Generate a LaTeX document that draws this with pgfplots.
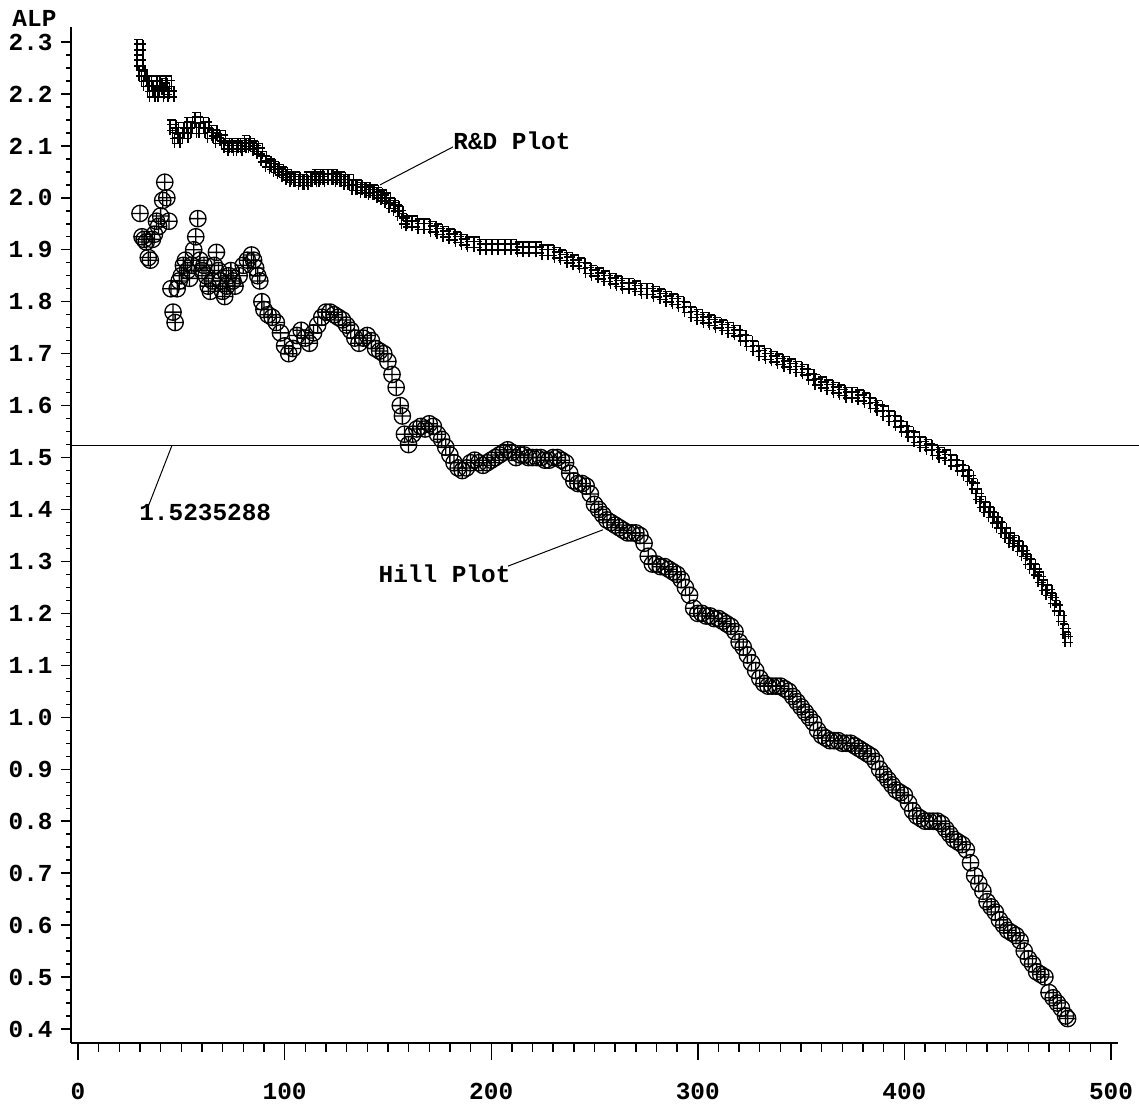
\documentclass[border=0pt]{standalone}
\usepackage{fontspec}
\setmainfont{Liberation Mono}
\usepackage{pgfplots}
\pgfplotsset{compat=1.18}

% hash-like plotting symbol for the R&D series
\pgfdeclareplotmark{sashash}{%
  \pgfpathmoveto{\pgfqpoint{-1.4pt}{-3.8pt}}\pgfpathlineto{\pgfqpoint{-1.4pt}{3.8pt}}%
  \pgfpathmoveto{\pgfqpoint{1.4pt}{-3.8pt}}\pgfpathlineto{\pgfqpoint{1.4pt}{3.8pt}}%
  \pgfpathmoveto{\pgfqpoint{-2.8pt}{1.5pt}}\pgfpathlineto{\pgfqpoint{2.8pt}{1.5pt}}%
  \pgfpathmoveto{\pgfqpoint{-2.8pt}{-1.5pt}}\pgfpathlineto{\pgfqpoint{2.8pt}{-1.5pt}}%
  \pgfpathmoveto{\pgfqpoint{-2.8pt}{3.8pt}}\pgfpathlineto{\pgfqpoint{1.4pt}{3.8pt}}%
  \pgfusepathqstroke}

\pgfplotstableread{
x y
30 2.29
30 2.26
31 2.24
32 2.23
33 2.22
35 2.21
36 2.20
37 2.22
38 2.21
40 2.20
41 2.22
42 2.215
43 2.205
44 2.22
45 2.20
46 2.135
47 2.12
48 2.11
50 2.13
52 2.12
54 2.14
56 2.13
58 2.15
60 2.13
62 2.14
64 2.12
66 2.125
68 2.11
70 2.115
72 2.10
74 2.095
76 2.10
78 2.095
80 2.10
82 2.105
84 2.10
86 2.095
88 2.09
90 2.075
92 2.065
94 2.06
96 2.055
98 2.05
100 2.045
102 2.04
104 2.035
106 2.035
108 2.03
110 2.03
112 2.035
114 2.035
116 2.04
118 2.035
120 2.04
122 2.04
124 2.04
126 2.035
128 2.035
130 2.03
132 2.03
134 2.02
136 2.02
138 2.015
140 2.015
142 2.01
144 2.01
146 2.005
148 2.0
150 1.995
152 1.985
154 1.98
156 1.97
158 1.955
160 1.95
163 1.95
166 1.945
169 1.945
172 1.94
175 1.935
178 1.93
181 1.925
184 1.92
187 1.915
190 1.91
193 1.91
196 1.905
199 1.905
202 1.905
205 1.905
208 1.905
211 1.905
214 1.90
217 1.90
220 1.90
223 1.90
226 1.895
229 1.895
232 1.89
235 1.885
238 1.88
241 1.875
244 1.87
247 1.86
250 1.855
253 1.85
256 1.845
259 1.84
262 1.835
265 1.83
268 1.83
271 1.825
274 1.82
277 1.82
280 1.815
283 1.81
286 1.805
289 1.80
292 1.795
295 1.785
298 1.775
301 1.77
304 1.765
307 1.76
310 1.755
313 1.75
316 1.745
319 1.74
322 1.73
325 1.72
328 1.71
331 1.70
334 1.695
337 1.69
340 1.685
343 1.68
346 1.675
349 1.67
352 1.665
355 1.655
358 1.645
361 1.64
364 1.635
367 1.63
370 1.625
373 1.62
376 1.62
379 1.615
382 1.61
385 1.60
388 1.595
391 1.585
394 1.575
397 1.565
400 1.555
403 1.545
406 1.535
409 1.525
412 1.52
415 1.51
418 1.505
421 1.50
424 1.49
427 1.48
430 1.47
432 1.46
434 1.445
436 1.425
438 1.41
440 1.40
442 1.39
444 1.38
446 1.37
448 1.36
450 1.35
452 1.34
454 1.335
456 1.325
458 1.315
460 1.30
462 1.29
464 1.28
466 1.265
468 1.25
470 1.24
472 1.225
474 1.21
476 1.19
478 1.165
479 1.15
}\rdtable

\pgfplotstableread{
x y
30 1.97
31 1.925
32 1.92
33 1.915
34 1.885
35 1.88
36 1.92
37 1.93
38 1.955
39 1.945
40 1.965
41 1.995
42 2.03
43 2.0
44 1.955
45 1.825
46 1.78
47 1.76
48 1.825
49 1.84
50 1.85
51 1.87
52 1.88
53 1.86
54 1.845
55 1.87
56 1.90
57 1.925
58 1.96
59 1.88
60 1.86
61 1.87
62 1.85
63 1.83
64 1.82
65 1.84
66 1.87
67 1.895
68 1.86
69 1.84
70 1.82
71 1.81
72 1.83
73 1.85
74 1.86
75 1.84
76 1.83
78 1.85
80 1.87
82 1.88
84 1.89
85 1.88
86 1.865
87 1.85
88 1.84
89 1.80
90 1.785
92 1.775
94 1.77
96 1.76
98 1.74
100 1.715
102 1.70
104 1.71
106 1.735
108 1.745
110 1.73
112 1.72
114 1.74
116 1.755
118 1.77
120 1.78
122 1.78
124 1.775
126 1.77
128 1.765
130 1.755
132 1.745
134 1.73
136 1.72
138 1.73
140 1.735
142 1.725
144 1.71
146 1.705
148 1.70
150 1.685
152 1.66
154 1.635
156 1.60
157 1.58
158 1.545
160 1.525
162 1.545
164 1.555
166 1.56
168 1.555
170 1.565
172 1.56
174 1.545
176 1.535
178 1.52
180 1.505
182 1.49
184 1.48
186 1.475
188 1.48
190 1.49
192 1.495
194 1.49
196 1.485
198 1.49
200 1.495
202 1.50
204 1.505
206 1.51
208 1.515
210 1.51
212 1.50
214 1.505
216 1.505
218 1.50
220 1.50
222 1.50
224 1.50
226 1.495
228 1.495
230 1.50
232 1.50
234 1.495
236 1.49
238 1.47
240 1.455
242 1.45
244 1.45
246 1.445
248 1.43
250 1.41
252 1.40
254 1.39
256 1.38
258 1.375
260 1.37
262 1.365
264 1.36
266 1.355
268 1.355
270 1.355
272 1.35
274 1.335
276 1.31
278 1.295
280 1.295
282 1.29
284 1.29
286 1.285
288 1.28
290 1.275
292 1.265
294 1.25
296 1.235
298 1.21
300 1.20
302 1.20
304 1.195
306 1.195
308 1.19
310 1.19
312 1.185
314 1.18
316 1.175
318 1.165
320 1.145
322 1.135
324 1.12
326 1.105
328 1.09
330 1.075
332 1.065
334 1.06
336 1.06
338 1.06
340 1.06
342 1.055
344 1.05
346 1.04
348 1.03
350 1.02
352 1.01
354 1.0
356 0.99
358 0.975
360 0.965
362 0.96
364 0.955
366 0.955
368 0.955
370 0.95
372 0.95
374 0.95
376 0.945
378 0.94
380 0.935
382 0.93
384 0.925
386 0.915
388 0.90
390 0.89
392 0.88
394 0.87
396 0.86
398 0.855
400 0.85
402 0.835
404 0.82
406 0.81
408 0.805
410 0.80
412 0.80
414 0.80
416 0.80
418 0.795
420 0.785
422 0.775
424 0.765
426 0.76
428 0.755
430 0.745
432 0.72
434 0.695
436 0.68
438 0.665
440 0.645
442 0.635
444 0.625
446 0.61
448 0.60
450 0.59
452 0.585
454 0.58
456 0.57
458 0.55
460 0.535
462 0.525
464 0.51
466 0.505
468 0.50
470 0.47
472 0.46
474 0.45
476 0.44
478 0.425
479 0.42
}\hilltable

\pgfplotsset{
  sasframe/.style={
    scale only axis, width=523.5pt, height=508pt,
    xmin=-3.39, xmax=503.39, ymin=0.373, ymax=2.3289,
    axis line style={-, line width=0.75pt},
    tick style={line width=0.7pt, black},
    tick align=outside,
    ticklabel style={font=\fontsize{12.2}{14}\selectfont\bfseries},
    /pgf/number format/assume math mode=true,
    clip=false,
  },
}

\begin{document}
\begin{tikzpicture}
% y axis only
\begin{axis}[sasframe, name=yax,
  axis x line=none, axis y line*=left,
  ytick={0.4,0.5,...,2.31}, minor y tick num=3,
  major tick length=5pt, minor tick length=2.5pt,
  yticklabel={\pgfmathprintnumber[fixed,fixed zerofill,precision=1]{\tick}},
  yticklabel style={anchor=east, inner sep=0pt, xshift=-4pt},
]
\end{axis}
% data and x axis
\begin{axis}[sasframe, name=ax,
  axis y line=none, axis x line*=bottom,
  xtick={0,100,...,500}, minor x tick num=9,
  major tick length=8.5pt, minor tick length=4.5pt,
  xticklabel style={anchor=north, inner sep=0pt, yshift=-11.5pt},
]
\addplot[only marks, mark=oplus, mark size=4.1pt, line width=0.65pt, black] table[x=x,y=y]{\hilltable};
\addplot[only marks, mark=sashash, line width=0.75pt, black] table[x=x,y=y]{\rdtable};
\draw[line width=0.75pt] (axis cs:-3.39,1.5235288) -- (axis cs:513.5,1.5235288);
\draw[line width=0.5pt] (axis cs:45.5,1.5235288) -- (axis cs:33.9,1.405);
\draw[line width=0.5pt] (axis cs:181.5,2.098) -- (axis cs:146.2,2.025);
\draw[line width=0.5pt] (axis cs:208.1,1.291) -- (axis cs:254.1,1.361);
\begin{scope}[every node/.style={font=\fontsize{12.2}{14}\selectfont\bfseries, inner sep=0pt}]
\node[anchor=base west] at (axis cs:29.5,1.378) {1.5235288};
\node[anchor=base west] at (axis cs:181.5,2.094) {R\&D Plot};
\node[anchor=base east] at (axis cs:209.5,1.259) {Hill Plot};
\node[anchor=base west] at (axis cs:-31.9,2.3289) {ALP};
\end{scope}
\end{axis}
\pgfresetboundingbox
\path[use as bounding box] (ax.south west) ++(-35.5pt,-31.5pt) rectangle ++(569.5pt,553pt);
\end{tikzpicture}
\end{document}
